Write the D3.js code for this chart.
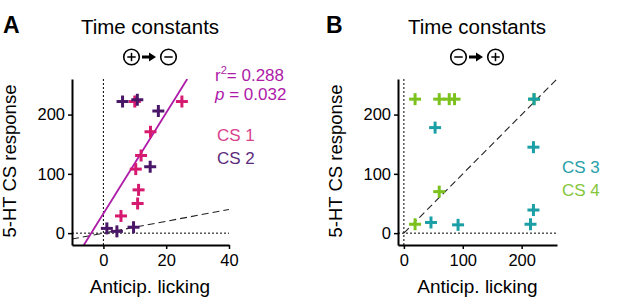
<!DOCTYPE html>
<html><head><meta charset="utf-8">
<script src="https://cdn.jsdelivr.net/npm/d3@7"></script>
<style>
html,body{margin:0;padding:0;background:#fff;}
svg text{font-family:"Liberation Sans",Arial,sans-serif;}
</style></head>
<body><svg id="c" width="617" height="305"></svg>
<script>
// ---------- data ----------
const cs1X = [25, 10, 15, 12, 10.3, 11.2, 10.9, 5.6];
const cs1Y = [222, 222, 171, 131, 108, 73, 50, 29];
const cs2X = [6.1, 10.8, 17.5, 14.9, 9.6, 1.1, 4.3];
const cs2Y = [222, 225, 206, 112, 10, 8, 3];
const fitA = [33, 8.5]; // intercept, slope
const statsA = ["0.288", "0.032"];

const cs3X = [53, 221, 220, 220, 215, 46, 92];
const cs3Y = [178, 226, 145, 39, 15, 18, 14];
const cs4X = [19, 60, 77, 86, 60, 19, 221];
const cs4Y = [226, 226, 226, 226, 70, 15, 226];

const yTicks = [0, 100, 200];
const xTicksA = [0, 20, 40];
const xTicksB = [0, 100, 200];
const labelsA = ["CS 1", "CS 2"];
const labelsB = ["CS 3", "CS 4"];

const colCS1 = "#d61a70", colCS2 = "#4a1668", colFit = "#ae1aa8";
const colCS3 = "#1b9fa6", colCS4 = "#7cc21f";

const svg = d3.select("#c");

function panel(opt) {
  const g = svg.append("g");
  const x = d3.scaleLinear().domain(opt.xDomain).range([opt.left, opt.right]);
  const y = d3.scaleLinear().domain([-20, 260]).range([245, 79]);
  const clipId = "clip" + opt.letter;
  svg.append("clipPath").attr("id", clipId).append("rect")
    .attr("x", opt.left).attr("y", 79).attr("width", opt.right - opt.left).attr("height", 245 - 79);

  // reference dotted lines
  g.append("line").attr("x1", x(0)).attr("x2", x(0)).attr("y1", 245).attr("y2", 79)
    .attr("stroke", "#000").attr("stroke-width", 1).attr("stroke-dasharray", "2,2");
  g.append("line").attr("x1", opt.left).attr("x2", opt.right).attr("y1", y(0)).attr("y2", y(0))
    .attr("stroke", "#000").attr("stroke-width", 1).attr("stroke-dasharray", "2,2");
  // identity dashed
  g.append("line").attr("clip-path", `url(#${clipId})`)
    .attr("x1", x(opt.idFrom)).attr("y1", y(opt.idFrom)).attr("x2", x(opt.idTo)).attr("y2", y(opt.idTo))
    .attr("stroke", "#222").attr("stroke-width", 1.1).attr("stroke-dasharray", "7,4");

  if (opt.fit) {
    const [b, m] = opt.fit;
    const y0 = -20, y1 = 260;
    g.append("line").attr("clip-path", `url(#${clipId})`)
      .attr("x1", x((y0 - b) / m)).attr("y1", y(y0)).attr("x2", x((y1 - b) / m)).attr("y2", y(y1))
      .attr("stroke", colFit).attr("stroke-width", 1.8);
  }

  opt.series.forEach(s => {
    s.xs.forEach((v, i) => {
      const px = x(v), py = y(s.ys[i]), h = 6;
      const pg = g.append("g").attr("stroke", s.color).attr("stroke-width", 3);
      pg.append("line").attr("x1", px - h).attr("x2", px + h).attr("y1", py).attr("y2", py);
      pg.append("line").attr("x1", px).attr("x2", px).attr("y1", py - h).attr("y2", py + h);
    });
  });

  // axes
  const ay = g.append("g").attr("transform", `translate(${opt.left},0)`)
    .call(d3.axisLeft(y).tickValues(yTicks).tickSize(4).tickPadding(3).tickSizeOuter(0));
  const ax = g.append("g").attr("transform", `translate(0,245)`)
    .call(d3.axisBottom(x).tickValues(opt.xTicks).tickSize(4).tickPadding(5).tickSizeOuter(0));
  [ay, ax].forEach(a => {
    a.select(".domain").attr("stroke", "#000").attr("stroke-width", 2);
    a.selectAll(".tick line").attr("stroke", "#000").attr("stroke-width", 1.5);
    a.selectAll("text").attr("font-size", 16.5).attr("fill", "#000")
      .attr("font-family", "Liberation Sans, Arial, sans-serif");
  });

  // titles
  const cx = opt.titleX;
  g.append("text").attr("x", cx).attr("y", 34).attr("text-anchor", "middle")
    .attr("font-size", 20.5).text("Time constants");
  g.append("text").attr("x", opt.letterX).attr("y", 33).attr("font-size", 23)
    .attr("font-weight", "bold").text(opt.letter);
  // symbols
  const sym = (sx, plus) => {
    g.append("circle").attr("cx", sx).attr("cy", 57).attr("r", 7.8)
      .attr("fill", "none").attr("stroke", "#000").attr("stroke-width", 1.6);
    g.append("line").attr("x1", sx - 4.2).attr("x2", sx + 4.2).attr("y1", 57).attr("y2", 57)
      .attr("stroke", "#000").attr("stroke-width", 1.5);
    if (plus) g.append("line").attr("x1", sx).attr("x2", sx).attr("y1", 52.8).attr("y2", 61.2)
      .attr("stroke", "#000").attr("stroke-width", 1.5);
  };
  sym(cx - 18.5, opt.firstPlus);
  sym(cx + 18.5, !opt.firstPlus);
  g.append("path")
    .attr("d", `M${cx - 8},55.5 L${cx - 1},55.5 L${cx - 1},52.5 L${cx + 6},57 L${cx - 1},61.5 L${cx - 1},58.5 L${cx - 8},58.5 Z`)
    .attr("fill", "#000");

  // axis titles
  g.append("text").attr("x", (opt.left + opt.right) / 2 + opt.xTitleShift).attr("y", 293).attr("text-anchor", "middle")
    .attr("font-size", 19).text("Anticip. licking");
  g.append("text").attr("transform", `translate(${opt.yTitleX},161) rotate(-90)`).attr("text-anchor", "middle")
    .attr("font-size", 18.5).text("5-HT CS response");
  return g;
}

const gA = panel({
  letter: "A", letterX: 3, titleX: 150, left: 72, right: 229, xDomain: [-10, 40], xTicks: xTicksA,
  idFrom: -10, idTo: 40, fit: fitA, firstPlus: true, xTitleShift: -0.5, yTitleX: 16,
  series: [{xs: cs1X, ys: cs1Y, color: colCS1}, {xs: cs2X, ys: cs2Y, color: colCS2}]
});
gA.append("text").attr("x", 215).attr("y", 81).attr("font-size", 17).attr("fill", colFit)
  .html(`r<tspan dy="-7" font-size="11">2</tspan><tspan dy="7">= ${statsA[0]}</tspan>`);
gA.append("text").attr("x", 215).attr("y", 100).attr("font-size", 17).attr("fill", colFit)
  .html(`<tspan font-style="italic">p</tspan> = ${statsA[1]}`);
gA.append("text").attr("x", 217).attr("y", 141).attr("font-size", 17).attr("fill", "#d9418c").text(labelsA[0]);
gA.append("text").attr("x", 217).attr("y", 164).attr("font-size", 17).attr("fill", "#5b2c7c").text(labelsA[1]);

const gB = panel({
  letter: "B", letterX: 326, titleX: 477, left: 398, right: 557, xDomain: [-10, 260], xTicks: xTicksB,
  idFrom: 0, idTo: 260, fit: null, firstPlus: false, xTitleShift: 0, yTitleX: 342,
  series: [{xs: cs4X, ys: cs4Y, color: colCS4}, {xs: cs3X, ys: cs3Y, color: colCS3}]
});
gB.append("text").attr("x", 562).attr("y", 173).attr("font-size", 17).attr("fill", "#26a0a8").text(labelsB[0]);
gB.append("text").attr("x", 562).attr("y", 196).attr("font-size", 17).attr("fill", "#84c63a").text(labelsB[1]);
</script></body></html>
